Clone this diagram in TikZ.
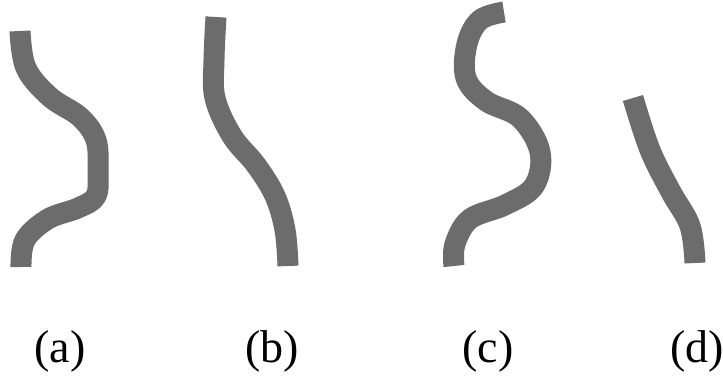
\documentclass[tikz,border=0pt]{standalone}
\usepackage{fontspec}
\setmainfont{Liberation Serif}
\definecolor{rodgray}{RGB}{108,108,108}
\tikzset{
  rod/.style={draw=rodgray, line width=21pt, line cap=butt, line join=round},
  lab/.style={anchor=base, inner sep=0pt, font=\fontsize{46}{55}\selectfont}
}
\begin{document}
\begin{tikzpicture}[x=1pt,y=-1pt]
\useasboundingbox (0,0) rectangle (723,375);
% (a)
\draw[rod] plot[smooth, tension=0.6] coordinates {(20,31) (26,68) (50,97) (80,117) (96,140) (98,170) (96,196) (78,208) (48,219) (25,240) (21,267)};
% (b)
\draw[rod] plot[smooth, tension=0.6] coordinates {(216,17) (214,60) (215,98) (232,136) (256,165) (275,196) (285,230) (288,266)};
% (c)
\draw[rod] plot[smooth, tension=0.6] coordinates {(504,12) (480,20) (467,44) (466,78) (486,101) (520,118) (540,152) (534,186) (505,205) (470,219) (455,244) (454,266)};
% (d)
\draw[rod] plot[smooth, tension=0.6] coordinates {(633,98) (650,150) (671,192) (690,226) (695,263)};
% labels
\node[lab] (la) at (60,362) {(a)};
\node[lab] (lb) at (272,362) {(b)};
\node[lab] (lc) at (488,362) {(c)};
\node[lab] (ld) at (697,362) {(d)};
\end{tikzpicture}
\end{document}
